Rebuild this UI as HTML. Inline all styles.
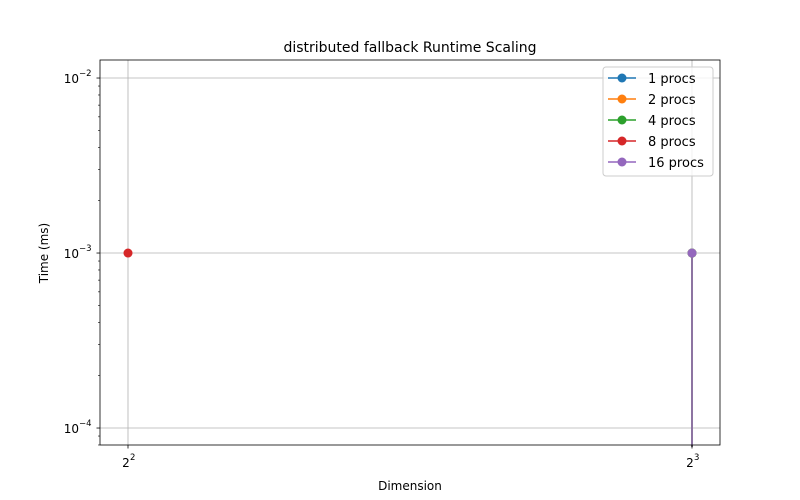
<!DOCTYPE html>
<html><head><meta charset="utf-8"><style>
html,body{margin:0;padding:0;background:#fff;overflow:hidden;width:800px;height:500px}
svg{display:block}
</style></head><body>
<svg id="chart" width="800" height="500" xmlns="http://www.w3.org/2000/svg" font-family="DejaVu Sans, Liberation Sans, sans-serif">
<rect width="800" height="500" fill="#fff"/>
<text x="410" y="52" text-anchor="middle" font-size="14">distributed fallback Runtime Scaling</text>
<text x="410" y="490" text-anchor="middle" font-size="12">Dimension</text>
<text x="48" y="253" text-anchor="middle" font-size="12" transform="rotate(-90 48 253)">Time (ms)</text>
<g id="grid"></g><g id="series"></g><g id="axes"></g><g id="legend"></g>
</svg>
<script>
const seriesNames=["1 procs","2 procs","4 procs","8 procs","16 procs"];
const colors=["#1f77b4","#ff7f0e","#2ca02c","#d62728","#9467bd"];
const dims1=[8,8]; const vals1=[0.001,1e-6];
const dims2=[8,8]; const vals2=[0.001,1e-6];
const dims4=[8,8]; const vals4=[0.001,1e-6];
const dims8=[4]; const vals8=[0.001];
const dims16=[8,8]; const vals16=[0.001,1e-6];
const xTicks=[4,8]; const xTickLabels=["2","3"];
const yTicks=[-4,-3,-2]; const yTickLabels=["−4","−3","−2"];
const NS="http://www.w3.org/2000/svg";
const L=100,R=720,T=60,B=445;
const ymin=-4.097,ymax=-1.897;
const x=d=>128+(Math.log2(d)-2)*564;
const y=v=>B-(Math.log10(v)-ymin)/(ymax-ymin)*(B-T);
const cy=v=>Math.max(T-2,Math.min(B+2,y(v)));
function mk(tag,at,parent){const e=document.createElementNS(NS,tag);for(const k in at)e.setAttribute(k,at[k]);parent.appendChild(e);return e;}
const grid=document.getElementById('grid'),axes=document.getElementById('axes'),ser=document.getElementById('series'),leg=document.getElementById('legend');
xTicks.forEach((d,i)=>{const px=x(d);
 const g=mk('line',{x1:px,x2:px,y1:T,y2:B,stroke:'#b0b0b0','stroke-width':0.8},grid);
 
 
 mk('line',{x1:px,x2:px,y1:B,y2:B+3.5,stroke:'#000','stroke-width':0.8},axes);
 const t=mk('text',{x:px-2,y:B+22,'text-anchor':'middle','font-size':12},axes);t.textContent='2';
 
 
 const s=mk('text',{x:px+2,y:B+15,'font-size':8.5},axes);s.textContent=xTickLabels[i];
});
yTicks.forEach((p,i)=>{const py=y(Math.pow(10,p));
 const g=mk('line',{x1:L,x2:R,y1:py,y2:py,stroke:'#b0b0b0','stroke-width':0.8},grid);
 
 
 mk('line',{x1:L-3.5,x2:L,y1:py,y2:py,stroke:'#000','stroke-width':0.8},axes);
 const t=mk('text',{x:L-21,y:py+5,'text-anchor':'end','font-size':12},axes);t.textContent='10';
 
 
 const s=mk('text',{x:L-21,y:py-2,'font-size':8.5},axes);s.textContent=yTickLabels[i];
});
for(let p=-5;p<=-2;p++)for(let m=2;m<=9;m++){const py=y(m*Math.pow(10,p));if(py>T&&py<B)mk('line',{x1:L-2,x2:L,y1:py,y2:py,stroke:'#000','stroke-width':0.6},axes);}
mk('rect',{x:L,y:T,width:R-L,height:B-T,fill:'none',stroke:'#000','stroke-width':0.8},axes);
const all=[[dims1,vals1],[dims2,vals2],[dims4,vals4],[dims8,vals8],[dims16,vals16]];
all.forEach(([ds,vs],i)=>{const g=mk('g',{},ser);
 
 
 const pts=ds.map((d,j)=>x(d)+','+cy(vs[j])).join(' ');
 if(ds.length>1)mk('polyline',{points:pts,fill:'none',stroke:colors[i],'stroke-width':1.5},g);
 ds.forEach((d,j)=>{const py=y(vs[j]);if(py<T||py>B)return;
  const c=mk('circle',{cx:x(d),cy:py,r:4.5,fill:colors[i]},g);
  
  });
});
const lb=mk('rect',{x:603,y:67,width:110,height:109,rx:3,fill:'#fff','fill-opacity':0.8,stroke:'#ccc'},leg);


seriesNames.forEach((n,i)=>{const yy=78+i*21;
 const g=mk('g',{},leg);
 
 
 mk('line',{x1:608,x2:636,y1:yy,y2:yy,stroke:colors[i],'stroke-width':1.5},g);
 mk('circle',{cx:622,cy:yy,r:4.5,fill:colors[i]},g);
 const t=mk('text',{x:648,y:yy+5,'font-size':13},g);t.textContent=n;});
</script>
</body></html>
